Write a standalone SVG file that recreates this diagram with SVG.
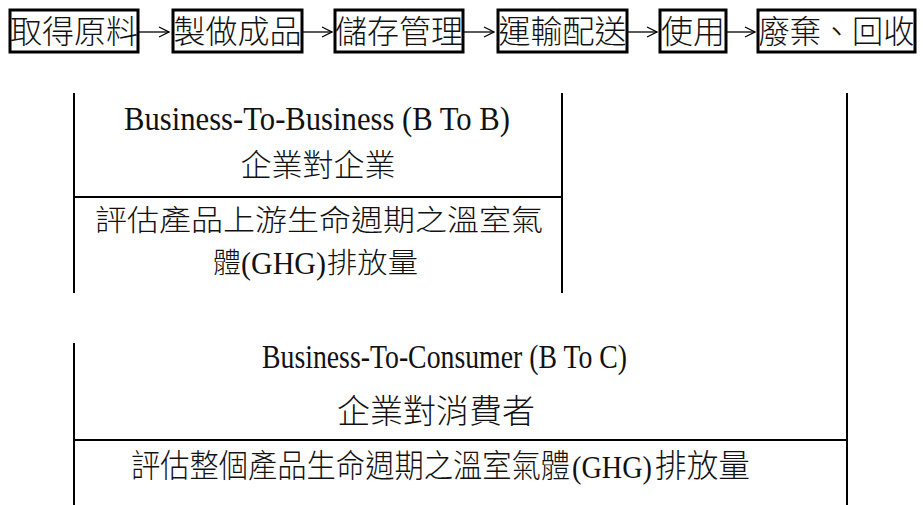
<svg xmlns="http://www.w3.org/2000/svg" width="923" height="505" viewBox="0 0 923 505">
<style>
.box{fill:#fff;stroke:#000;stroke-width:3}
.cjk{font-family:"Noto Sans CJK TC","Noto Sans CJK SC",sans-serif;font-weight:300;fill:#111}
.lat{font-family:"Liberation Serif",serif;fill:#111}
.ln{stroke:#000;stroke-width:2;fill:none}
.arr{stroke:#000;stroke-width:1.3;fill:none;marker-end:url(#ah)}
</style>
<defs>
<marker id="ah" markerWidth="12" markerHeight="12" refX="11" refY="6" orient="auto" markerUnits="userSpaceOnUse">
<path d="M1,1 L11,6 L1,11" fill="none" stroke="#000" stroke-width="1.3"/>
</marker>
</defs>
<g id="connectors">
<line class="arr" x1="138" y1="32" x2="169" y2="32"/>
<line class="arr" x1="302" y1="32" x2="332" y2="32"/>
<line class="arr" x1="463" y1="32" x2="494" y2="32"/>
<line class="arr" x1="627" y1="32" x2="657" y2="32"/>
<line class="arr" x1="726" y1="32" x2="755" y2="32"/>
</g>
<g id="n1"><rect class="box" x="10" y="10" width="128" height="42"/><text class="cjk" x="74" y="43" font-size="32" text-anchor="middle" textLength="128" lengthAdjust="spacingAndGlyphs">取得原料</text></g>
<g id="n2"><rect class="box" x="173" y="10" width="129" height="42"/><text class="cjk" x="237.5" y="43" font-size="32" text-anchor="middle" textLength="128" lengthAdjust="spacingAndGlyphs">製做成品</text></g>
<g id="n3"><rect class="box" x="335" y="10" width="128" height="42"/><text class="cjk" x="399" y="43" font-size="32" text-anchor="middle" textLength="128" lengthAdjust="spacingAndGlyphs">儲存管理</text></g>
<g id="n4"><rect class="box" x="498" y="10" width="129" height="42"/><text class="cjk" x="562.5" y="43" font-size="32" text-anchor="middle" textLength="128" lengthAdjust="spacingAndGlyphs">運輸配送</text></g>
<g id="n5"><rect class="box" x="660" y="10" width="66" height="42"/><text class="cjk" x="693" y="43" font-size="32" text-anchor="middle" textLength="64" lengthAdjust="spacingAndGlyphs">使用</text></g>
<g id="n6"><rect class="box" x="758" y="10" width="157" height="42"/><text class="cjk" x="836.5" y="43" font-size="32" text-anchor="middle" textLength="156" lengthAdjust="spacingAndGlyphs">廢棄、回收</text></g>
<g id="b2b">
<line class="ln" x1="74" y1="93" x2="74" y2="293"/>
<line class="ln" x1="562" y1="93" x2="562" y2="293"/>
<line class="ln" x1="74" y1="197" x2="562" y2="197"/>
<text class="lat" x="124" y="130" font-size="34" textLength="386" lengthAdjust="spacingAndGlyphs">Business-To-Business (B To B)</text>
<text class="cjk" x="318" y="176" font-size="31" text-anchor="middle" textLength="155" lengthAdjust="spacingAndGlyphs">企業對企業</text>
<text class="cjk" x="95" y="231" font-size="29" textLength="448" lengthAdjust="spacingAndGlyphs">評估產品上游生命週期之溫室氣</text>
<text class="cjk" x="213" y="273" font-size="28" textLength="28" lengthAdjust="spacingAndGlyphs">體</text>
<text class="lat" x="241" y="274" font-size="31" textLength="85" lengthAdjust="spacingAndGlyphs">(GHG)</text>
<text class="cjk" x="327" y="273" font-size="28" textLength="91" lengthAdjust="spacingAndGlyphs">排放量</text>
</g>
<g id="b2c">
<line class="ln" x1="74" y1="343" x2="74" y2="505"/>
<line class="ln" x1="847" y1="93" x2="847" y2="505"/>
<line class="ln" x1="74" y1="440" x2="847" y2="440"/>
<text class="lat" x="262" y="368" font-size="34" textLength="365" lengthAdjust="spacingAndGlyphs">Business-To-Consumer (B To C)</text>
<text class="cjk" x="337" y="423" font-size="33" textLength="198" lengthAdjust="spacingAndGlyphs">企業對消費者</text>
<text class="cjk" transform="translate(131,477) scale(0.915,1)" font-size="32">評估整個產品生命週期之溫室氣體</text>
<text class="lat" x="572" y="478" font-size="32" textLength="80" lengthAdjust="spacingAndGlyphs">(GHG)</text>
<text class="cjk" transform="translate(655,477) scale(0.99,1)" font-size="32">排放量</text>
</g>
</svg>
